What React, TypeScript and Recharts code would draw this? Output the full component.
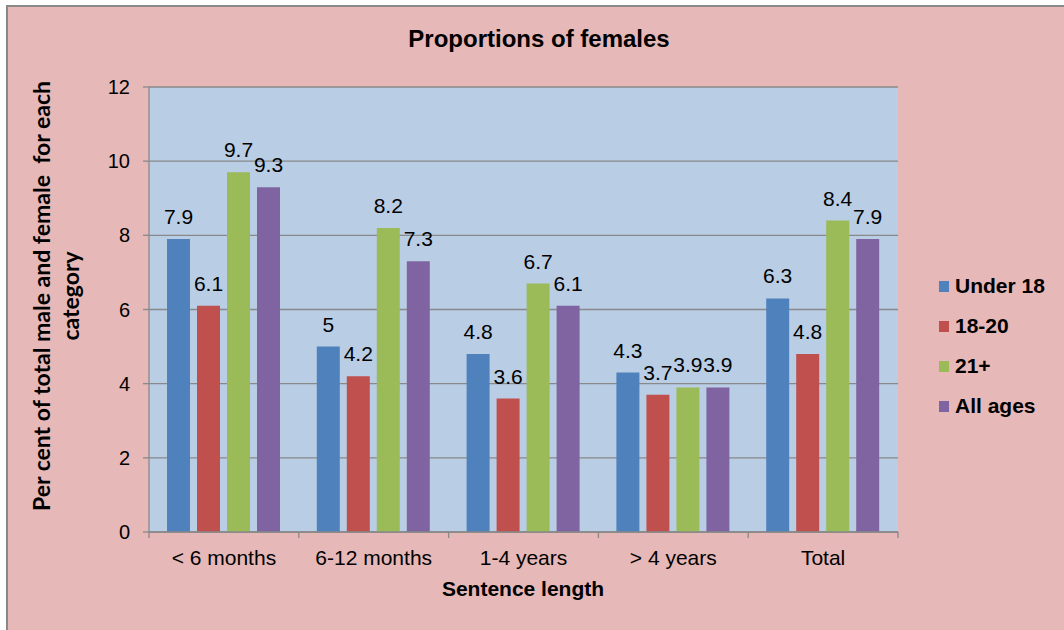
import { BarChart, Bar, XAxis, YAxis, CartesianGrid, LabelList } from "recharts";

const categories = ["< 6 months", "6-12 months", "1-4 years", "> 4 years", "Total"];
const under18 = [7.9, 5, 4.8, 4.3, 6.3];
const age18to20 = [6.1, 4.2, 3.6, 3.7, 4.8];
const age21plus = [9.7, 8.2, 6.7, 3.9, 8.4];
const allAges = [9.3, 7.3, 6.1, 3.9, 7.9];
const yTicks = [0, 2, 4, 6, 8, 10, 12];

const series = [
  { key: "under18", name: "Under 18", color: "#4F81BD" },
  { key: "age18to20", name: "18-20", color: "#C0504D" },
  { key: "age21plus", name: "21+", color: "#9BBB59" },
  { key: "allAges", name: "All ages", color: "#8064A2" },
];

const data = categories.map((name, i) => ({
  name,
  under18: under18[i],
  age18to20: age18to20[i],
  age21plus: age21plus[i],
  allAges: allAges[i],
}));

const arial = "'Liberation Sans', Arial, sans-serif";
const gray = "#898989";
const TICK_SIZE = 6;
const TICK_MARGIN = 12;

// category label plus the tick marks Excel draws between categories
function CategoryTick(props: any) {
  const { x, y, payload, index } = props;
  const half = payload.offset || 0;
  const axisY = y - TICK_SIZE - TICK_MARGIN;
  return (
    <g>
      <line x1={x - half} x2={x - half} y1={axisY} y2={axisY + TICK_SIZE} stroke={gray} strokeWidth={1.3} />
      {index === categories.length - 1 && (
        <line x1={x + half} x2={x + half} y1={axisY} y2={axisY + TICK_SIZE} stroke={gray} strokeWidth={1.3} />
      )}
      <text x={x} y={y} dy="0.71em" textAnchor="middle" fill="#000" fontSize={21} fontFamily={arial}>
        {payload.value}
      </text>
    </g>
  );
}

export default function App() {
  return (
    <div
      style={{
        position: "fixed",
        left: 0,
        top: 0,
        width: 1064,
        height: 630,
        overflow: "hidden",
        background: "#fff",
        fontFamily: arial,
      }}
    >
      <div
        style={{
          position: "absolute",
          left: 6,
          top: 5,
          width: 1080,
          height: 650,
          background: "#E6B8B7",
          border: `2px solid ${gray}`,
        }}
      />
      <div style={{ position: "absolute", left: 0, top: 0 }}>
        <BarChart
          width={1064}
          height={630}
          data={data}
          margin={{ top: 87, right: 166, bottom: 0, left: 0 }}
          barCategoryGap={18}
          barGap={7}
        >
          <CartesianGrid
            horizontal
            vertical={false}
            fill="#B9CDE5"
            fillOpacity={1}
            stroke={gray}
            strokeWidth={1.3}
          />
          <XAxis
            dataKey="name"
            height={98}
            stroke={gray}
            strokeWidth={1.3}
            tickLine={false}
            tickSize={TICK_SIZE}
            tickMargin={TICK_MARGIN}
            tick={<CategoryTick />}
            interval={0}
          />
          <YAxis
            width={149}
            domain={[0, 12]}
            ticks={yTicks}
            tickSize={6}
            tickMargin={13}
            stroke={gray}
            strokeWidth={1.3}
            tick={{ fill: "#000", fontSize: 20, fontFamily: arial }}
          />
          {series.map((s) => (
            <Bar
              key={s.key}
              dataKey={s.key}
              name={s.name}
              fill={s.color}
              isAnimationActive={false}
            >
              <LabelList
                dataKey={s.key}
                position="top"
                offset={15}
                fill="#000"
                fontSize={21}
                fontFamily={arial}
              />
            </Bar>
          ))}
        </BarChart>
      </div>

      {/* chart title */}
      <div
        style={{
          position: "absolute",
          left: 339,
          width: 400,
          top: 25,
          textAlign: "center",
          fontSize: 24,
          fontWeight: "bold",
          color: "#000",
        }}
      >
        Proportions of females
      </div>

      {/* x axis title */}
      <div
        style={{
          position: "absolute",
          left: 373,
          width: 300,
          top: 577,
          textAlign: "center",
          fontSize: 21,
          fontWeight: "bold",
          color: "#000",
        }}
      >
        Sentence length
      </div>

      {/* y axis title */}
      <div
        style={{
          position: "absolute",
          left: 58,
          top: 296,
          width: 0,
          height: 0,
          transform: "rotate(-90deg)",
        }}
      >
        <div
          style={{
            position: "absolute",
            left: -300,
            width: 600,
            top: -31,
            textAlign: "center",
            fontFamily: "Lato, sans-serif",
            fontWeight: "bold",
            fontSize: 23,
            lineHeight: "29px",
            color: "#000",
            whiteSpace: "pre",
          }}
        >
          {"Per cent of total male and female  for each\ncategory"}
        </div>
      </div>

      {/* legend */}
      <div style={{ position: "absolute", left: 939, top: 266 }}>
        {series.map((s) => (
          <div
            key={s.key}
            style={{ display: "flex", alignItems: "center", height: 40 }}
          >
            <div style={{ width: 10, height: 11, background: s.color, marginRight: 6 }} />
            <span style={{ fontSize: 21, fontWeight: "bold", color: "#000" }}>{s.name}</span>
          </div>
        ))}
      </div>
    </div>
  );
}
